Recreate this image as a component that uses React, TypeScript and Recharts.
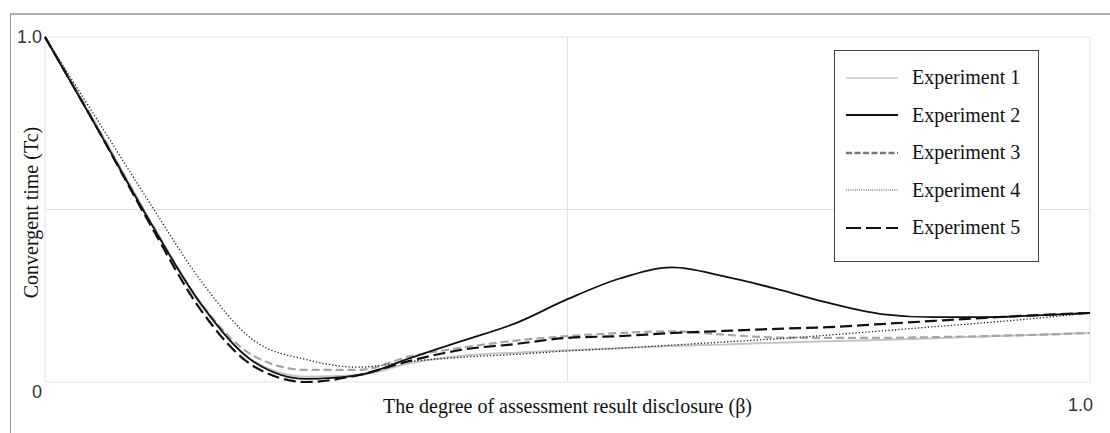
import { LineChart, Line, XAxis, YAxis, CartesianGrid, Legend, Label } from 'recharts'

// x positions (β) and the five series
const betas = [0, 0.05, 0.1, 0.15, 0.2, 0.25, 0.3, 0.35, 0.4, 0.45, 0.5, 0.55, 0.6, 0.65, 0.7, 0.75, 0.8, 0.85, 0.9, 0.95, 1.0]
const exp1 = [1, 0.74, 0.47, 0.22, 0.06, 0.015, 0.02, 0.055, 0.076, 0.085, 0.092, 0.098, 0.104, 0.109, 0.114, 0.118, 0.122, 0.127, 0.132, 0.137, 0.142]
const exp2 = [1, 0.735, 0.467, 0.223, 0.058, 0.009, 0.02, 0.07, 0.12, 0.17, 0.24, 0.3, 0.332, 0.306, 0.27, 0.229, 0.197, 0.188, 0.188, 0.193, 0.2]
const exp3 = [1, 0.74, 0.47, 0.225, 0.075, 0.035, 0.035, 0.075, 0.1, 0.12, 0.133, 0.142, 0.147, 0.137, 0.129, 0.128, 0.128, 0.13, 0.133, 0.137, 0.142]
const exp4 = [1, 0.76, 0.52, 0.29, 0.12, 0.065, 0.043, 0.06, 0.072, 0.08, 0.09, 0.098, 0.107, 0.116, 0.125, 0.136, 0.148, 0.16, 0.172, 0.185, 0.2]
const exp5 = [1, 0.735, 0.46, 0.205, 0.045, 0, 0.02, 0.062, 0.094, 0.11, 0.128, 0.133, 0.142, 0.148, 0.154, 0.159, 0.168, 0.177, 0.186, 0.194, 0.2]

const gridTicks = [0, 0.5, 1]

const data = betas.map((b, i) => ({
  beta: b, e1: exp1[i], e2: exp2[i], e3: exp3[i], e4: exp4[i], e5: exp5[i],
}))

interface SeriesStyle {
  key: string
  name: string
  stroke: string
  width: number
  dash?: string
  legendStroke: string
  legendWidth: number
  legendDash?: string
}

// draw order: light ones first, black solid on top
const series: SeriesStyle[] = [
  { key: 'e1', name: 'Experiment 1', stroke: '#c4c4c4', width: 2, legendStroke: '#c8c8c8', legendWidth: 1.5 },
  { key: 'e3', name: 'Experiment 3', stroke: '#a6a6a6', width: 2.2, dash: '8 4', legendStroke: '#777', legendWidth: 2.6, legendDash: '6 2.5' },
  { key: 'e4', name: 'Experiment 4', stroke: '#222', width: 1.3, dash: '1.3 2', legendStroke: '#444', legendWidth: 1, legendDash: '1 1.2' },
  { key: 'e5', name: 'Experiment 5', stroke: '#111', width: 2.2, dash: '12 5', legendStroke: '#111', legendWidth: 2, legendDash: '15 5' },
  { key: 'e2', name: 'Experiment 2', stroke: '#111', width: 1.8, legendStroke: '#111', legendWidth: 2 },
]
const legendOrder = ['e1', 'e2', 'e3', 'e4', 'e5']

const sans = '"Liberation Sans", Arial, sans-serif'
const serif = '"Liberation Serif", "Times New Roman", serif'

const YTick = (props: any) => {
  const { x, y, payload } = props
  if (payload.value === 1) {
    return <text x={x} y={y} dy="0.36em" textAnchor="end" fontFamily={sans} fontSize={18} fill="#333">1.0</text>
  }
  if (payload.value === 0) {
    return <text x={x} y={y + 10} dy="0.36em" textAnchor="end" fontFamily={sans} fontSize={18} fill="#333">0</text>
  }
  return <g />
}

const XTick = (props: any) => {
  const { x, y, payload } = props
  if (payload.value === 1) {
    return <text x={x + 3} y={y + 23} dy="0.36em" textAnchor="end" fontFamily={sans} fontSize={18} fill="#333">1.0</text>
  }
  return <g />
}

const renderLegend = () => (
  <div style={{
    boxSizing: 'border-box', width: 205, height: 212, border: '1px solid #444',
    background: '#fff', paddingTop: 8,
  }}>
    {legendOrder.map(k => {
      const s = series.find(d => d.key === k)!
      return (
        <div key={k} style={{ display: 'flex', alignItems: 'center', height: 37.5 }}>
          <svg width={52} height={8} style={{ marginLeft: 11, display: 'block' }}>
            <line x1={0} x2={52} y1={4} y2={4} stroke={s.legendStroke}
              strokeWidth={s.legendWidth} strokeDasharray={s.legendDash} />
          </svg>
          <span style={{ marginLeft: 14, fontFamily: serif, fontSize: 20, color: '#111' }}>{s.name}</span>
        </div>
      )
    })}
  </div>
)

export default function App() {
  return (
    <div style={{ position: 'absolute', left: 0, top: 0, width: 1110, height: 433, background: '#fff', overflow: 'hidden' }}>
      <div style={{
        position: 'absolute', left: 10, top: 13, width: 1100, height: 420,
        borderTop: '2px solid #b0b0b0', borderLeft: '1px solid #9a9a9a', boxSizing: 'border-box',
      }} />
      <LineChart width={1110} height={433} data={data}
        margin={{ top: 37, right: 20, bottom: 0, left: 0 }}
        style={{ position: 'absolute', left: 0, top: 0 }}>
        <CartesianGrid stroke="#e2e2e2" strokeWidth={1} />
        <XAxis dataKey="beta" type="number" domain={[0, 1]} ticks={gridTicks}
          axisLine={false} tickLine={false} tickSize={0} tickMargin={0} height={51}
          tick={XTick} interval={0}>
          <Label value="The degree of assessment result disclosure (β)" position="insideBottom" offset={20}
            style={{ fontFamily: serif, fontSize: 20, fill: '#111' }} />
        </XAxis>
        <YAxis type="number" domain={[0, 1]} ticks={gridTicks} width={45}
          axisLine={false} tickLine={false} tickSize={0} tickMargin={3}
          tick={YTick} interval={0}>
          <Label content={(p: any) => {
            const vb = p.viewBox
            const cx = vb.x + 38
            const cy = vb.y + vb.height / 2 + 3
            return (
              <text x={cx} y={cy} transform={`rotate(-90, ${cx}, ${cy})`} textAnchor="middle"
                fontFamily={serif} fontSize={20} fill="#111">Convergent time (Tc)</text>
            )
          }} />
        </YAxis>
        <Legend layout="vertical" align="center" verticalAlign="middle" content={renderLegend}
          wrapperStyle={{ left: 834, top: 50, width: 205, height: 212 }} />
        {series.map(s => (
          <Line key={s.key} type="monotone" dataKey={s.key} name={s.name}
            stroke={s.stroke} strokeWidth={s.width} strokeDasharray={s.dash}
            dot={false} activeDot={false} isAnimationActive={false} />
        ))}
      </LineChart>
    </div>
  )
}
